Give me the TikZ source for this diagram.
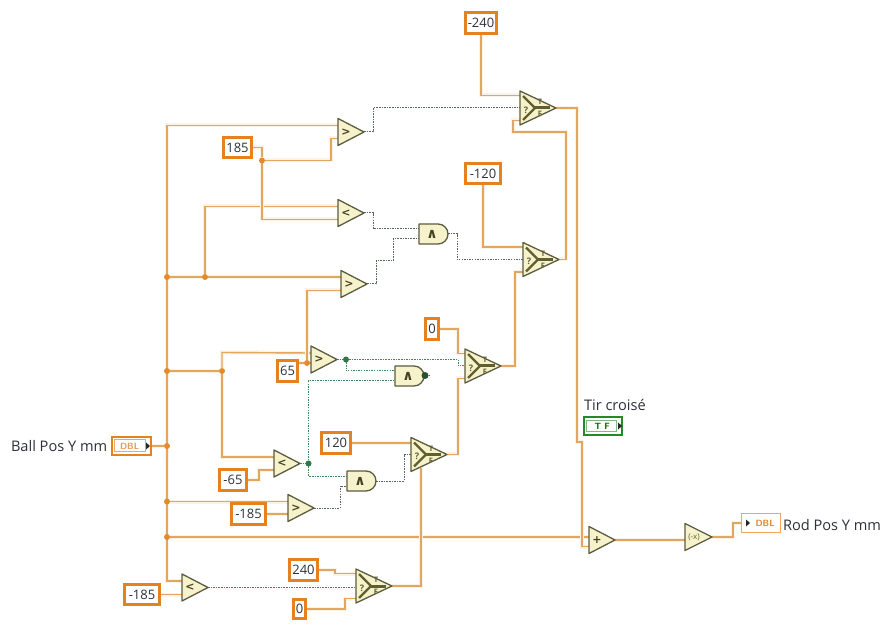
\documentclass[tikz,border=0pt]{standalone}
\usepackage{fontspec}
\setmainfont{Open Sans}
\newfontfamily\symf{DejaVu Sans}
\usetikzlibrary{calc}
\pgfdeclarelayer{bg}
\pgfsetlayers{bg,main}
\definecolor{wireC}{HTML}{E2A65E}
\definecolor{konstC}{HTML}{E5811F}
\definecolor{junC}{HTML}{E5892B}
\definecolor{blockF}{HTML}{F6F3CC}
\definecolor{blockD}{HTML}{5C5C3E}
\definecolor{iconC}{HTML}{5F5F30}
\definecolor{boolG}{HTML}{5A665A}
\definecolor{boolH}{HTML}{3F8A55}
\definecolor{txtC}{HTML}{2E3138}
\tikzset{
  every node/.style={text=txtC,inner sep=0pt,outer sep=0pt},
  wire/.style={draw=wireC,line width=1.4pt,preaction={draw=wireC!14,line width=4pt}},
  boolw/.style={draw=boolG,line width=1pt,dash pattern=on 1.5pt off 1.1pt},
  boolg/.style={draw=boolH,line width=1pt,dash pattern=on 1.5pt off 1.1pt},
  blockshape/.style={fill=blockF,draw=blockD,line width=1.3pt,line join=round},
  portbox/.style={rectangle,draw=none,fill=none},
  konstbox/.style={rectangle,draw=konstC,line width=2.8pt,fill=white,font=\fontsize{13}{15}\selectfont},
  jun/.style={circle,fill=junC,minimum size=6pt},
  bjun/.style={circle,fill=boolH!85!black,minimum size=6pt},
  opsym/.style={font=\symf\bfseries\fontsize{11}{12}\selectfont,text=iconC!70!black},
  andsym/.style={font=\symf\bfseries\fontsize{14}{15}\selectfont,text=iconC!70!black},
  tiny/.style={font=\bfseries\fontsize{7.5}{8}\selectfont,text=iconC},
  lab/.style={font=\fontsize{14.6}{16}\selectfont},
  dblfont/.style={font=\sffamily\bfseries\fontsize{9}{10}\selectfont},
}
% comparator-like triangle: name, left x, tip y, symbol
\newcommand{\cmpblk}[4]{%
  \path[blockshape] (#2,#3-13.5) -- (#2+26,#3) -- (#2,#3+13.5) -- cycle;
  \node[portbox,minimum width=26pt,minimum height=27pt] (#1) at (#2+13,#3) {};
  \node[opsym] (#1-sym) at (#2+8,#3) {#4};
  \coordinate (#1-a) at (#2,#3-6.5);
  \coordinate (#1-b) at (#2,#3+6.5);
  \coordinate (#1-c) at (#2,#3);
}
% select block: name, left x, tip y
\newcommand{\selblk}[3]{%
  \path[blockshape] (#2,#3-17) -- (#2+36,#3) -- (#2,#3+17) -- cycle;
  \draw[iconC,line width=2.2pt] (#2+3,#3-12) -- (#2+15,#3);
  \draw[iconC,line width=2.2pt] (#2+3,#3+12) -- (#2+15,#3);
  \draw[iconC,line width=3pt] (#2+14,#3) -- (#2+30,#3);
  \node[portbox,minimum width=36pt,minimum height=34pt] (#1) at (#2+18,#3) {};
  \node[tiny,font=\bfseries\fontsize{9}{9}\selectfont] (#1-q) at (#2+6,#3+2) {?};
  \node[tiny] (#1-t) at (#2+20,#3-6) {T};
  \node[tiny] (#1-f) at (#2+20,#3+6) {F};
  \coordinate (#1-a) at (#2,#3-12.5);
  \coordinate (#1-s) at (#2,#3);
  \coordinate (#1-b) at (#2,#3+12.5);
}
% AND gate: name, left x, centre y
\newcommand{\andblk}[3]{%
  \path[blockshape] (#2,#3-10) -- (#2+19,#3-10) arc[start angle=-90,end angle=90,radius=10] -- (#2,#3+10) -- cycle;
  \node[portbox,minimum width=29pt,minimum height=20pt] (#1) at (#2+14.5,#3) {};
  \node[andsym] (#1-sym) at (#2+13,#3) {∧};
  \coordinate (#1-a) at (#2,#3-5);
  \coordinate (#1-b) at (#2,#3+5);
}
% constant: name, x1, y1, x2, y2, text
\newcommand{\konst}[6]{%
  \node[konstbox,minimum width=#4-#2-2.8,minimum height=#5-#3-2.8] (#1) at ({(#2+#4)/2},{(#3+#5)/2}) {#6};
}
\begin{document}
\begin{tikzpicture}[x=1pt,y=-1pt]
\useasboundingbox (0,0) rectangle (887,628);
\begin{pgfonlayer}{bg}
  \fill[white] (0,0) rectangle (887,628);
\end{pgfonlayer}

% blocks
\cmpblk{c1}{338}{132}{>}
\cmpblk{c2}{338}{213}{<}
\cmpblk{c3}{341}{284}{>}
\cmpblk{c4}{311}{359.5}{>}
\cmpblk{c5}{274}{463.5}{<}
\cmpblk{c6}{288}{508}{>}
\cmpblk{c7}{182}{587.5}{<}
\cmpblk{add}{589}{540}{+}
\path[blockshape] (685,523.5) -- (712,537) -- (685,550.5) -- cycle;
\node[portbox,minimum width=27pt,minimum height=27pt] (neg) at (698.5,537) {};
\node[font=\fontsize{8}{8}\selectfont,text=iconC] (negsym) at (694,537) {(-x)};

\selblk{s1}{520}{108}
\selblk{s2}{523}{259.5}
\selblk{s3}{465}{366}
\selblk{s4}{411}{454.5}
\selblk{s5}{356}{586}

\andblk{a1}{419}{234}
\andblk{a2}{395}{376}
\andblk{a3}{347}{481}
\node[bjun,minimum size=7pt,fill=boolH!60!black] (a2dot) at (425,375.5) {};
\coordinate (a2stub) at (431,375.5);

% constants
\konst{km240}{464}{11}{498}{35}{-240}
\konst{km120}{464}{162}{502}{185}{-120}
\konst{k185}{222}{136}{253}{159}{185}
\konst{k65}{276}{359}{299}{383}{65}
\konst{kz}{424}{317}{440}{341}{0}
\konst{k120}{320}{431}{352}{455}{120}
\konst{km65}{218}{468}{248}{492}{-65}
\konst{km185a}{230}{502}{267}{526}{-185}
\konst{km185b}{123}{583}{161}{606}{-185}
\konst{k240}{288}{558}{319}{582}{240}
\konst{kzb}{292}{598}{307}{620}{0}

% terminals
\node[rectangle,draw=konstC,line width=2pt,fill=white,minimum width=39pt,minimum height=18pt] (ball) at (131.5,446) {};
\node[rectangle,draw=konstC!70,line width=1pt,minimum width=31pt,minimum height=12pt,dblfont,text=konstC!80] (ballin) at (129.5,446) {DBL};
\fill[black!85] (146,442.5) -- (150,446) -- (146,449.5) -- cycle;
\node[rectangle,draw=konstC!70,line width=1.5pt,fill=white,minimum width=39pt,minimum height=19pt,dblfont,text=konstC] (rod) at (761,523) {\hspace*{8pt}DBL};
\fill[black!85] (746,519.5) -- (750,523) -- (746,526.5) -- cycle;
\node[rectangle,draw=green!45!black!85,line width=2.4pt,fill=white,minimum width=38pt,minimum height=18pt] (tf) at (603,426) {};
\node[rectangle,draw=green!45!black!50,line width=.8pt,minimum width=30pt,minimum height=11pt,dblfont,text=green!40!black] (tfin) at (601.5,426) {\,T F};
\fill[black!85] (618,422.5) -- (622,426) -- (618,429.5) -- cycle;

% labels
\node[lab,anchor=west] (lball) at (11,446) {Ball Pos Y mm};
\node[lab,anchor=west] (lrod) at (783,525) {Rod Pos Y mm};
\node[lab,anchor=west] (ltir) at (584,405) {Tir croisé};

% junctions
\node[jun] (j277) at (167,277) {};
\node[jun] (j371) at (167,371) {};
\node[jun] (jball) at (167,446) {};
\node[jun] (j501) at (167,501.5) {};
\node[jun] (j537) at (167,537) {};
\node[jun] (j205) at (205,277) {};
\node[jun] (j222) at (222,371) {};
\node[jun] (j185) at (262,160.5) {};
\node[jun] (j65) at (307,363) {};
\node[bjun,minimum size=6pt] (bj1) at (346,359.5) {};
\node[bjun,minimum size=6pt] (bj2) at (308.5,463.5) {};

% waypoints
\coordinate (trunktop) at (167,125.5);
\coordinate (trunkbot) at (167,581);
\coordinate (v205) at (205,206.5);
\coordinate (v222a) at (222,352.5);
\coordinate (v222b) at (222,457);
\coordinate (v331) at (331,138.5);
\coordinate (v262) at (262,219.5);
\coordinate (v307) at (307,290.5);
\coordinate (vm65) at (259,470);
\coordinate (v577a) at (577,442);
\coordinate (v582a) at (582,442);
\coordinate (v582b) at (582,552.5);
\coordinate (v513a) at (513,120.5);
\coordinate (v513b) at (513,132);
\coordinate (v566) at (566,259.5);
\coordinate (v515) at (515,272);
\coordinate (v458a) at (458,353.5);
\coordinate (v458b) at (458,378.5);
\coordinate (v458c) at (458,454.5);
\coordinate (v421) at (421,468);
\coordinate (v335a) at (335,570);
\coordinate (v335b) at (335,573.5);
\coordinate (v345) at (345,598.5);
\coordinate (v733) at (733,537);
\coordinate (v373) at (373,108);
\coordinate (v373b) at (373,229);
\coordinate (v376) at (376,261);
\coordinate (v393) at (393,261);
\coordinate (v457) at (457,234);
\coordinate (v4b) at (308.5,381);
\coordinate (v4c) at (308.5,476);
\coordinate (v5) at (346,371);
\coordinate (v404) at (404,481);
\coordinate (v340) at (340,486);
\coordinate (v458d) at (458,359.5);

\begin{pgfonlayer}{bg}
  % orange wires
  \draw[wire] (c1-a) -- (trunktop) -- (trunkbot) -- (c7-a);
  \draw[wire] (ball.east) -- (jball);
  \draw[wire] (j277) -- (c3-a |- j277);
  \draw[wire] (j205) -- (v205) -- (c2-a);
  \draw[wire] (k185.east) -| (j185);
  \draw[wire] (j185) -| (v331) -- (c1-b);
  \draw[wire] (j185) -- (j185 |- v262) -- (c2-b);
  \draw[wire] (j371) -- (j222);
  \draw[wire] (j222) -- (v222a) -- (c4-a);
  \draw[wire] (j222) -- (v222b) -- (c5-a);
  \draw[wire] (k65.east |- j65) -- (j65) -- (c4-a |- j65);
  \draw[wire] (j65) -- (v307) -- (c3-b);
  \draw[wire] (km65.east) -| (vm65) -- (c5-b);
  \draw[wire] (j501) -- (c6-a);
  \draw[wire] (km185a.east) -- (km185a.east -| c6-b);
  \draw[wire] (km185b.east) -- (km185b.east -| c7-b);
  \draw[wire] (j537) -- (j537 -| add-a);
  \draw[wire] (s1.east) -| (v577a) -- (v582a) -- (v582b |- add-b) -- (add-b);
  \draw[wire] (km240.south) |- (s1-a);
  \draw[wire] (s1-b) -- (v513a) -- (v513b) -| (v566) -- (s2.east);
  \draw[wire] (km120.south) |- (s2-a);
  \draw[wire] (s2-b) -- (v515) -- (v515 |- s3.east) -- (s3.east);
  \draw[wire] (kz.east) -| (v458a) -- (s3-a);
  \draw[wire] (s3-b) -- (v458b) -- (v458c) -- (s4.east);
  \draw[wire] (k120.east) -- (k120.east -| s4-a);
  \draw[wire] (s5.east) -| (v421);
  \draw[wire] (k240.east) -- (v335a) -- (v335b) -- (s5-a);
  \draw[wire] (kzb.east) -| (v345) -- (s5-b);
  \draw[wire] (add.east) -- (add.east -| neg.west);
  \draw[wire] (neg.east) -- (v733) |- (rod.west);
  % boolean wires
  \draw[boolw] (c1.east) -| (v373) -- (s1-s);
  \draw[boolw] (c2.east) -| (v373b) -- (a1-a);
  \draw[boolw] (c3.east) -| (v376) -- (v393) |- (a1-b);
  \draw[boolw] (a1.east) -- (v457) |- (s2-s);
  \draw[boolg] (c4.east) -- (bj1);
  \draw[boolg] (bj1) -- (v458d) |- (s3-s);
  \draw[boolg] (bj1) -- (v5) -- (a2-a);
  \draw[boolg] (c5.east) -- (bj2);
  \draw[boolg] (bj2) -- (v4b) -- (a2-b);
  \draw[boolg] (bj2) -- (v4c) -- (a3-a);
  \draw[boolw] (c6.east) -| (v340) -- (a3-b);
  \draw[boolw] (a3.east) -- (v404) |- (s4-s);
  \draw[boolg] (c7.east) -- (c7.east -| s5-s);
  \draw[boolw] (a2dot) -- (a2stub);
\end{pgfonlayer}
\end{tikzpicture}
\end{document}
